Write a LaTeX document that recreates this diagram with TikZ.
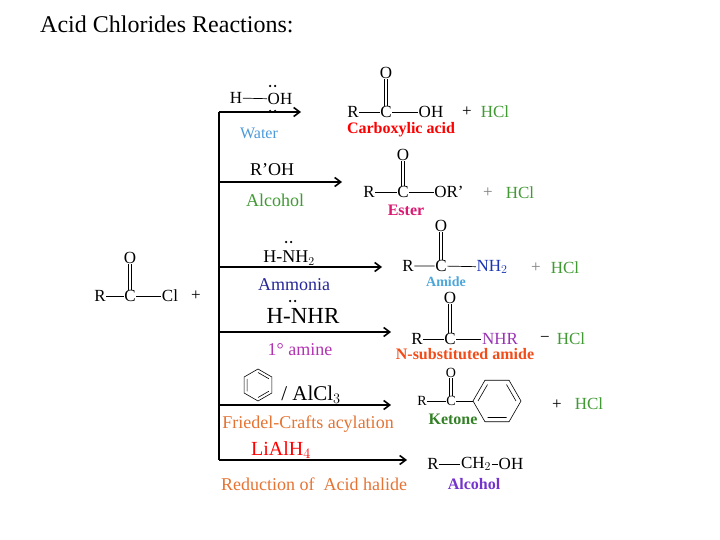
\documentclass[tikz,border=0pt]{standalone}
\usepackage{fontspec}
\setmainfont{Liberation Serif}
\usetikzlibrary{arrows.meta}
\begin{document}
\begin{tikzpicture}[x=1pt,y=-1pt,
 t/.style={inner sep=0.5pt,font=\fontsize{17}{17}\selectfont},
 big/.style={inner sep=0.5pt,font=\fontsize{23}{23}\selectfont},
 lab/.style={inner sep=0pt,font=\fontsize{16}{16}\selectfont\bfseries},
 rl/.style={inner sep=0pt,font=\fontsize{18}{18}\selectfont},
 bond/.style={line width=0.7pt},
 arr/.style={line width=1.6pt,-{Straight Barb[length=6pt,width=9pt]}},
 dot/.style={fill,circle,inner sep=0pt,minimum size=2.5pt}]
\definecolor{hclg}{rgb}{0.25,0.6,0.2}
\useasboundingbox (0,0) rectangle (720,540);
\node[anchor=west,inner sep=0,font=\fontsize{24}{24}\selectfont,color=black] (title) at (40,24) {Acid Chlorides Reactions:};
% starting material
\node[t] (r0) at (100,296) {R};
\node[t] (c0) at (130,296) {C};
\node[t] (cl0) at (170,296) {Cl};
\node[t] (o0) at (130,258) {O};
\node[t] (p0) at (196,296) {+};
\draw[bond] (r0)--(c0) (c0)--(cl0);
\draw[bond] ([xshift=-1.5pt]c0.north)--([xshift=-1.5pt]o0.south) ([xshift=1.5pt]c0.north)--([xshift=1.5pt]o0.south);
% trunk
\coordinate (top) at (219,112);
\coordinate (bot) at (219,460);
\draw[line width=1.6pt] (top)--(bot);
\coordinate (e1) at (301,112); \coordinate (s2) at (219,182); \coordinate (e2) at (342,182);
\coordinate (s3) at (219,267); \coordinate (e3) at (382,267);
\coordinate (s4) at (219,332); \coordinate (e4) at (391,332);
\coordinate (s5) at (219,405); \coordinate (e5) at (391,405);
\coordinate (e6) at (407,460);
\draw[arr] (top)--(e1); \draw[arr] (s2)--(e2); \draw[arr] (s3)--(e3);
\draw[arr] (s4)--(e4); \draw[arr] (s5)--(e5); \draw[arr] (bot)--(e6);
% row 1
\node[t] (h1) at (236,98) {H};
\node[t] (oh1) at (280,99) {OH};
\draw[bond] (h1)--(oh1);
\node[dot] (d1) at (270,86) {}; \node[dot] (d2) at (275,86) {};
\node[dot] (d3) at (270,111) {}; \node[dot] (d4) at (275,111) {};
\node[inner sep=0,font=\fontsize{16}{16}\selectfont,color={rgb,1:red,0.3;green,0.6;blue,0.85}] (w) at (259,133) {Water};
\node[t] (r1) at (353,112) {R}; \node[t] (c1) at (386,112) {C}; \node[t] (x1) at (431,112) {OH};
\node[t] (o1) at (386,73) {O};
\draw[bond] (r1)--(c1) (c1)--(x1);
\draw[bond] ([xshift=-1.5pt]c1.north)--([xshift=-1.5pt]o1.south) ([xshift=1.5pt]c1.north)--([xshift=1.5pt]o1.south);
\node[t] (pl1) at (467,112) {+}; \node[t,color=hclg] (hcl1) at (495,112) {HCl};
\node[lab,color=red] (n1) at (401,130) {Carboxylic acid};
% row 2
\node[rl] (ro2) at (272,170) {R’OH};
\node[rl,color=hclg] (al2) at (275,200) {Alcohol};
\node[t] (r2) at (369,192) {R}; \node[t] (c2) at (403,192) {C}; \node[t] (x2) at (449,192) {OR'};
\node[t] (o2) at (403,155) {O};
\draw[bond] (r2)--(c2) (c2)--(x2);
\draw[bond] ([xshift=-1.5pt]c2.north)--([xshift=-1.5pt]o2.south) ([xshift=1.5pt]c2.north)--([xshift=1.5pt]o2.south);
\node[t,color=gray] (pl2) at (488,193) {+}; \node[t,color=hclg] (hcl2) at (520,193) {HCl};
\node[lab,color={rgb,1:red,0.85;green,0.1;blue,0.45}] (n2) at (406,210) {Ester};
% row 3
\node[rl] (nh3) at (289,258) {H-NH$_2$};
\node[dot] at (286,242) {}; \node[dot] at (291,242) {};
\node[rl,color={rgb,1:red,0.15;green,0.15;blue,0.6}] (am3) at (294,285) {Ammonia};
\node[t] (r3) at (408,266) {R}; \node[t] (c3) at (441,266) {C}; \node[t,color={rgb,1:red,0.1;green,0.2;blue,0.7}] (x3) at (492,267) {NH$_2$};
\node[t] (o3) at (441,226) {O};
\draw[bond] (r3)--(c3) (c3)--(x3);
\draw[bond] ([xshift=-1.5pt]c3.north)--([xshift=-1.5pt]o3.south) ([xshift=1.5pt]c3.north)--([xshift=1.5pt]o3.south);
\node[t,color=gray] (pl3) at (536,268) {+}; \node[t,color=hclg] (hcl3) at (565,268) {HCl};
\node[lab,font=\fontsize{14}{14}\selectfont\bfseries,color={rgb,1:red,0.3;green,0.65;blue,0.85}] (n3) at (446,282) {Amide};
% row 4
\node[big] (nh4) at (303,316) {H-NHR};
\node[dot] at (290,301) {}; \node[dot] at (295,301) {};
\node[rl,color={rgb,1:red,0.7;green,0.2;blue,0.7}] (am4) at (300,350) {1° amine};
\node[t] (r4) at (417,339) {R}; \node[t] (c4) at (450,339) {C}; \node[t,color={rgb,1:red,0.6;green,0.2;blue,0.7}] (x4) at (500,339) {NHR};
\node[t] (o4) at (450,298) {O};
\draw[bond] (r4)--(c4) (c4)--(x4);
\draw[bond] ([xshift=-1.5pt]c4.north)--([xshift=-1.5pt]o4.south) ([xshift=1.5pt]c4.north)--([xshift=1.5pt]o4.south);
\node[t] (pl4) at (545,339) {−}; \node[t,color=hclg] (hcl4) at (571,339) {HCl};
\node[lab,color={rgb,1:red,0.95;green,0.3;blue,0.1}] (n4) at (465,354) {N-substituted amide};
% row 5
\draw[line width=0.6pt] (258,385) +(90:16) -- +(150:16) -- +(210:16) -- +(270:16) -- +(330:16) -- +(30:16) -- cycle;
\draw[line width=0.6pt] (258,385) +(150:12.5) -- +(210:12.5) +(270:12.5) -- +(330:12.5) +(30:12.5) -- +(90:12.5);
\node[big,font=\fontsize{21}{21}\selectfont] (alc) at (311,395) {/ AlCl$_3$};
\node[rl,color={rgb,1:red,0.9;green,0.45;blue,0.2}] (fc) at (308,424) {Friedel-Crafts acylation};
\node[inner sep=0.5pt,font=\fontsize{14}{14}\selectfont] (r5) at (422,401) {R};
\node[inner sep=0.5pt,font=\fontsize{14}{14}\selectfont] (c5) at (451,401) {C};
\node[inner sep=0.5pt,font=\fontsize{14}{14}\selectfont] (o5) at (451,373) {O};
\coordinate (b5) at (473,401);
\draw[bond] (r5)--(c5) (c5)--(b5);
\draw[bond] ([xshift=-1.5pt]c5.north)--([xshift=-1.5pt]o5.south) ([xshift=1.5pt]c5.north)--([xshift=1.5pt]o5.south);
\draw[line width=0.6pt] (b5) -- ++(60:24) -- ++(0:24) -- ++(-60:24) -- ++(-120:24) -- ++(180:24) -- cycle;
\draw[line width=0.6pt] (497,401) +(120:19) -- +(60:19) +(0:19) -- +(-60:19) +(-120:19) -- +(180:19);
\node[t] (pl5) at (557,405) {+}; \node[t,color=hclg] (hcl5) at (589,404) {HCl};
\node[lab,color={rgb,1:red,0.2;green,0.5;blue,0.15}] (n5) at (453,419) {Ketone};
% row 6
\node[rl,font=\fontsize{20}{20}\selectfont,color=red] (li) at (281,450) {LiAlH$_4$};
\node[rl,color={rgb,1:red,0.9;green,0.45;blue,0.2}] (rd) at (314,484) {Reduction of \ Acid halide};
\node[t] (r6) at (433,464) {R}; \node[t] (ch6) at (476,464) {CH$_2$}; \node[t] (oh6) at (511,464) {OH};
\draw[bond] (r6)--(ch6) (ch6)--(oh6);
\node[lab,color={rgb,1:red,0.45;green,0.2;blue,0.8}] (n6) at (474,484) {Alcohol};
\end{tikzpicture}
\end{document}
